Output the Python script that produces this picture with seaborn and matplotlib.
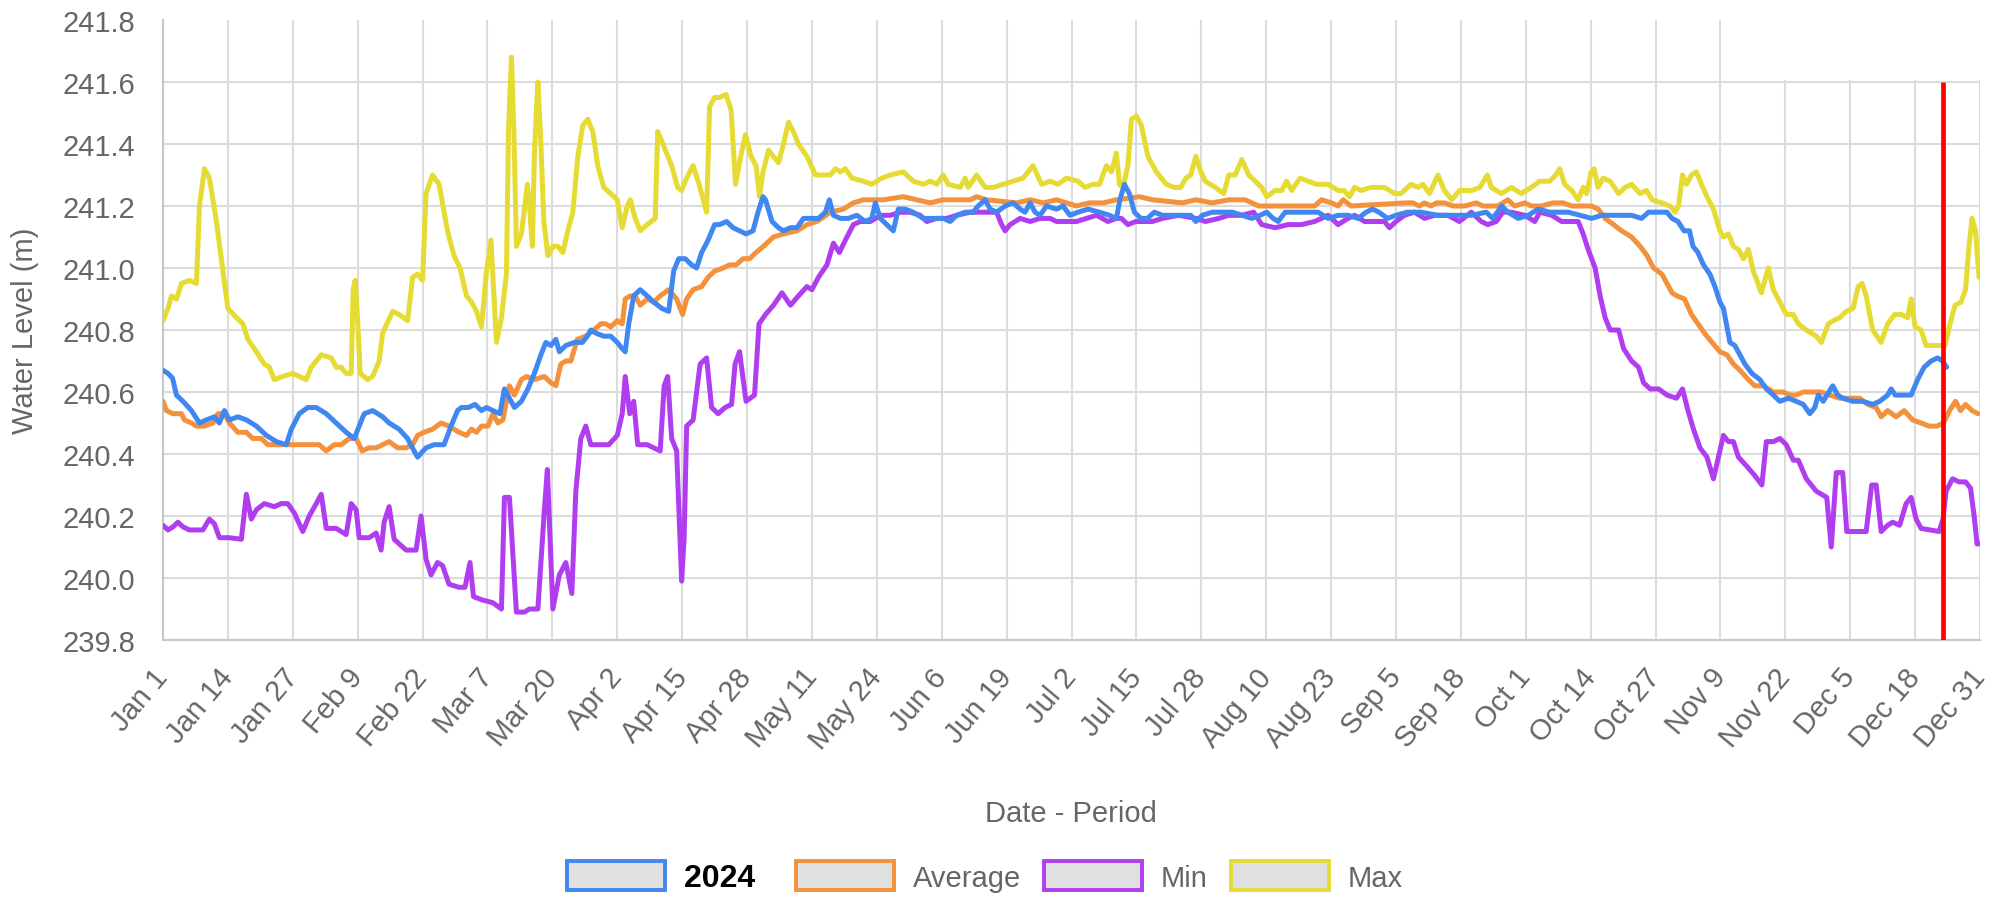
import numpy as np
import pandas as pd
import matplotlib
matplotlib.use("Agg")
import matplotlib.pyplot as plt
import seaborn as sns
from matplotlib.patches import Patch, Rectangle

# (day of year, water level in m); day 0 = Jan 1, day 364 = Dec 31
level_2024 = [
    (0, 240.67), (1, 240.66), (1.9, 240.645), (2.7, 240.59), (4, 240.57), (5.7, 240.54), (7.3, 240.50),
    (8.7, 240.51), (10.3, 240.52), (11.3, 240.50), (12.3, 240.54), (13.3, 240.51), (15, 240.52), (16.7, 240.51),
    (18.7, 240.49), (20.7, 240.46), (22.7, 240.44), (24.7, 240.43), (25.7, 240.48), (27.3, 240.53), (29, 240.55),
    (30.7, 240.55), (32.7, 240.53), (34.7, 240.50), (36.7, 240.47), (38.3, 240.45), (39.3, 240.49), (40.3, 240.53),
    (42, 240.54), (44, 240.52), (45.3, 240.50), (47.3, 240.48), (49, 240.45), (50.3, 240.41), (51, 240.39),
    (52.7, 240.42), (54.3, 240.43), (56.3, 240.43), (57.7, 240.49), (59, 240.54), (59.8, 240.55), (61.2, 240.55),
    (62.5, 240.56), (63.8, 240.54), (64.8, 240.55), (66.1, 240.54), (67.5, 240.53), (68.4, 240.61), (69.4, 240.58),
    (70.4, 240.55), (71.8, 240.57), (73.1, 240.61), (74.4, 240.66), (75.7, 240.72), (76.7, 240.76), (77.7, 240.75),
    (78.7, 240.77), (79.4, 240.73), (80.7, 240.75), (82.4, 240.76), (84, 240.76), (85, 240.78), (85.7, 240.80),
    (86.7, 240.79), (88.3, 240.78), (89.7, 240.78), (91, 240.76), (92, 240.74), (92.6, 240.73), (93.3, 240.82),
    (94.3, 240.91), (95.6, 240.93), (97, 240.91), (98.3, 240.89), (99.9, 240.87), (101.3, 240.86), (102.3, 240.99),
    (103.3, 241.03), (104.6, 241.03), (105.9, 241.01), (106.9, 241.00), (107.9, 241.05), (109.2, 241.09),
    (110.5, 241.14), (111.5, 241.14), (112.9, 241.15), (114.2, 241.13), (115.5, 241.12), (116.8, 241.11),
    (118.2, 241.12), (119.2, 241.18), (120.2, 241.23), (120.7, 241.22), (122, 241.15), (123.3, 241.13),
    (124.3, 241.12), (125.7, 241.13), (127, 241.13), (128.3, 241.16), (130, 241.16), (131.3, 241.16),
    (132.7, 241.18), (133.5, 241.22), (134.3, 241.17), (135.7, 241.16), (137.3, 241.16), (139, 241.17),
    (140.7, 241.15), (142, 241.16), (142.7, 241.21), (143.7, 241.16), (145, 241.14), (146.3, 241.12),
    (147.3, 241.19), (148.7, 241.19), (150.3, 241.18), (152.3, 241.16), (154.3, 241.16), (156.3, 241.16),
    (157.7, 241.15), (159, 241.17), (160.7, 241.18), (162.3, 241.18), (163.3, 241.20), (164.7, 241.22),
    (165.7, 241.19), (167, 241.18), (168.7, 241.20), (170.3, 241.21), (171.7, 241.19), (172.7, 241.18),
    (173.7, 241.21), (174.7, 241.18), (175.7, 241.17), (177, 241.20), (179, 241.19), (180.3, 241.20),
    (181.7, 241.17), (183.3, 241.18), (185.3, 241.19), (187.6, 241.18), (189.6, 241.17), (191, 241.16),
    (191.7, 241.22), (192.6, 241.27), (193.6, 241.24), (194.6, 241.18), (195.9, 241.16), (197.2, 241.16),
    (198.6, 241.18), (200.2, 241.17), (203.5, 241.17), (205.9, 241.17), (206.9, 241.15), (208.2, 241.17),
    (210.2, 241.18), (214.2, 241.18), (216.2, 241.17), (218.1, 241.16), (219.8, 241.17), (221.1, 241.18),
    (222.4, 241.16), (223.4, 241.15), (224.8, 241.18), (229.4, 241.18), (231.4, 241.18), (233.4, 241.16),
    (235.4, 241.17), (237.4, 241.17), (239.4, 241.16), (241, 241.18), (242.3, 241.19), (243.6, 241.18),
    (245.3, 241.16), (247, 241.17), (249.3, 241.18), (252, 241.18), (255.4, 241.17), (262.1, 241.17),
    (265.1, 241.18), (266.4, 241.16), (268.2, 241.20), (269.4, 241.18), (271.5, 241.16), (273.5, 241.17),
    (275.5, 241.19), (277.8, 241.18), (281.5, 241.18), (283.9, 241.17), (286.2, 241.16), (288.2, 241.17),
    (294.2, 241.17), (296.2, 241.16), (297.6, 241.18), (299.6, 241.18), (301.3, 241.18), (302.3, 241.16),
    (303.5, 241.15), (304.7, 241.12), (305.8, 241.12), (306.5, 241.07), (307.5, 241.05), (308.6, 241.01),
    (309.9, 240.98), (310.9, 240.94), (311.9, 240.89), (312.6, 240.87), (313.3, 240.81), (313.9, 240.76),
    (314.9, 240.75), (315.9, 240.72), (316.9, 240.69), (318.3, 240.66), (319.9, 240.64), (321.2, 240.61),
    (322.6, 240.59), (323.9, 240.57), (325.6, 240.58), (327.2, 240.57), (328.6, 240.56), (329.9, 240.53),
    (330.9, 240.55), (331.6, 240.59), (332.6, 240.57), (333.7, 240.60), (334.5, 240.62), (335.5, 240.59),
    (336.5, 240.58), (338.5, 240.57), (340.5, 240.57), (342.5, 240.56), (343.9, 240.57), (345.5, 240.59),
    (346.2, 240.61), (347, 240.59), (348.5, 240.59), (350.2, 240.59), (351.5, 240.64), (352.8, 240.68),
    (354.2, 240.70), (355.5, 240.71), (356.5, 240.70), (357.3, 240.68),
]

level_avg = [
    (0, 240.57), (0.7, 240.54), (2, 240.53), (3.7, 240.53), (4.3, 240.51), (5.7, 240.50), (6.7, 240.49),
    (8.3, 240.49), (10, 240.50), (11, 240.53), (12.3, 240.53), (13.3, 240.50), (15, 240.47), (16.7, 240.47),
    (18, 240.45), (19.7, 240.45), (21, 240.43), (22.7, 240.43), (24.7, 240.43), (27.3, 240.43), (30, 240.43),
    (31.3, 240.43), (32.7, 240.41), (34.3, 240.43), (35.7, 240.43), (37.3, 240.45), (38.7, 240.45), (39.9, 240.41),
    (41.3, 240.42), (42.7, 240.42), (44, 240.43), (45.3, 240.44), (47, 240.42), (48.7, 240.42), (50, 240.43),
    (51, 240.46), (52.3, 240.47), (54, 240.48), (55.7, 240.50), (57.3, 240.49), (59.3, 240.47), (60.8, 240.46),
    (61.8, 240.48), (62.8, 240.47), (63.8, 240.49), (65.1, 240.49), (66.1, 240.53), (67.1, 240.50), (68.1, 240.51),
    (69.4, 240.62), (70.4, 240.59), (71.8, 240.64), (72.8, 240.65), (74.4, 240.64), (76.4, 240.65), (77.7, 240.63),
    (78.7, 240.62), (79.7, 240.69), (80.7, 240.70), (81.7, 240.70), (83, 240.77), (84.7, 240.78), (86.3, 240.80),
    (87.7, 240.82), (88.7, 240.82), (89.7, 240.81), (91, 240.83), (92, 240.82), (92.6, 240.90), (93.6, 240.91),
    (94.6, 240.91), (95.6, 240.88), (97, 240.90), (98.3, 240.89), (99.6, 240.91), (101.3, 240.93), (102.9, 240.90),
    (104.1, 240.85), (104.9, 240.90), (106.2, 240.93), (107.9, 240.94), (109.2, 240.97), (110.5, 240.99),
    (112.2, 241.00), (113.5, 241.01), (114.8, 241.01), (116.2, 241.03), (117.5, 241.03), (118.8, 241.05),
    (120.3, 241.07), (122.3, 241.10), (124.3, 241.11), (127, 241.12), (129, 241.14), (131, 241.15),
    (133.7, 241.18), (136.3, 241.19), (138.3, 241.21), (140.3, 241.22), (144.3, 241.22), (148.3, 241.23),
    (151, 241.22), (153.7, 241.21), (156.3, 241.22), (161.7, 241.22), (163, 241.23), (165, 241.22), (171, 241.21),
    (173.7, 241.22), (176.3, 241.21), (179, 241.22), (181, 241.21), (183, 241.20), (185.6, 241.21), (188.3, 241.21),
    (191, 241.22), (195.6, 241.23), (198.2, 241.22), (204.2, 241.21), (206.9, 241.22), (210.2, 241.21),
    (213.5, 241.22), (216.8, 241.22), (219.5, 241.20), (230.7, 241.20), (232.1, 241.22), (234.1, 241.21),
    (235.4, 241.20), (236.4, 241.22), (238, 241.20), (249, 241.21), (250.4, 241.21), (251.7, 241.20),
    (252.7, 241.21), (254, 241.20), (255.1, 241.21), (256.7, 241.21), (258.4, 241.20), (260.7, 241.20),
    (263.1, 241.21), (264.4, 241.20), (267.4, 241.20), (269.4, 241.22), (270.8, 241.20), (272.8, 241.21),
    (274.1, 241.20), (276.1, 241.20), (278.5, 241.21), (280.5, 241.21), (282.2, 241.20), (286.2, 241.20),
    (287.5, 241.19), (288.9, 241.16), (290.6, 241.14), (292.2, 241.12), (294.2, 241.10), (295.9, 241.07),
    (297.3, 241.04), (298.6, 241.00), (300.3, 240.98), (301.3, 240.95), (302.3, 240.92), (303.3, 240.91),
    (304.8, 240.90), (306.2, 240.85), (307.5, 240.82), (308.8, 240.79), (310.3, 240.76), (311.9, 240.73),
    (313.3, 240.72), (314.6, 240.69), (315.9, 240.67), (317.6, 240.64), (318.9, 240.62), (320.6, 240.62),
    (322.6, 240.60), (324.6, 240.60), (325.9, 240.59), (327.2, 240.59), (328.6, 240.60), (330.6, 240.60),
    (332.2, 240.60), (333.9, 240.59), (335.9, 240.58), (339.9, 240.58), (341.5, 240.56), (343.2, 240.55),
    (344.2, 240.52), (345.5, 240.54), (347.2, 240.52), (348.8, 240.54), (350.5, 240.51), (352.2, 240.50),
    (353.8, 240.49), (355.4, 240.49), (356.7, 240.50), (357.9, 240.54), (359.1, 240.57), (360.1, 240.54),
    (361.1, 240.56), (362.4, 240.54), (363.6, 240.53),
]

level_min = [
    (0, 240.17), (1, 240.155), (2, 240.165), (3, 240.18), (4, 240.165), (5.3, 240.155), (8, 240.155),
    (9.3, 240.19), (10.3, 240.175), (11.3, 240.13), (13.3, 240.13), (15.7, 240.125), (16.7, 240.27),
    (17.7, 240.19), (18.7, 240.22), (20.3, 240.24), (22.3, 240.23), (23.7, 240.24), (25, 240.24), (26.3, 240.21),
    (28, 240.15), (29.3, 240.20), (30.7, 240.24), (31.7, 240.27), (32.7, 240.16), (34.7, 240.16), (35.7, 240.15),
    (36.7, 240.14), (37.7, 240.24), (38.7, 240.22), (39.3, 240.13), (41.3, 240.13), (42.7, 240.145),
    (43.7, 240.09), (44.3, 240.18), (45.3, 240.23), (46.3, 240.125), (48.7, 240.09), (50.7, 240.09),
    (51.7, 240.20), (52.7, 240.06), (53.7, 240.01), (55, 240.05), (56, 240.04), (57.3, 239.98), (59.3, 239.97),
    (60.5, 239.97), (61.5, 240.05), (62.2, 239.94), (63.8, 239.93), (66.1, 239.92), (67.8, 239.90),
    (68.4, 240.26), (69.4, 240.26), (70.8, 239.89), (72.4, 239.89), (73.4, 239.90), (75.1, 239.90),
    (76.4, 240.22), (77, 240.35), (78.1, 239.90), (79.4, 240.01), (80.7, 240.05), (81.9, 239.95), (82.7, 240.28),
    (83.7, 240.45), (84.7, 240.49), (85.7, 240.43), (87.7, 240.43), (89.3, 240.43), (91, 240.46), (92, 240.53),
    (92.6, 240.65), (93.5, 240.53), (94.3, 240.57), (95.1, 240.43), (97, 240.43), (98.3, 240.42), (99.6, 240.41),
    (100.4, 240.62), (101.1, 240.65), (101.9, 240.45), (102.9, 240.41), (103.9, 239.99), (104.4, 240.13),
    (104.9, 240.49), (106.2, 240.51), (107.6, 240.69), (108.9, 240.71), (109.9, 240.55), (111.2, 240.53),
    (112.6, 240.55), (113.9, 240.56), (114.6, 240.69), (115.5, 240.73), (116.8, 240.57), (118.5, 240.59),
    (119.4, 240.82), (120.7, 240.85), (122.3, 240.88), (124, 240.92), (125.7, 240.88), (127.3, 240.91),
    (129, 240.94), (130, 240.93), (131.3, 240.97), (133, 241.01), (134.3, 241.08), (135.5, 241.05),
    (136.7, 241.09), (138.3, 241.14), (139.7, 241.15), (141.7, 241.15), (143.7, 241.17), (145.7, 241.17),
    (147.7, 241.18), (149.7, 241.18), (151.7, 241.17), (153, 241.15), (155, 241.16), (157, 241.16),
    (159, 241.17), (161.7, 241.18), (164.3, 241.18), (167, 241.18), (168, 241.14), (168.7, 241.12),
    (169.7, 241.14), (171.7, 241.16), (173.7, 241.15), (175.7, 241.16), (177.7, 241.16), (179, 241.15),
    (181, 241.15), (183, 241.15), (185, 241.16), (187, 241.17), (189.3, 241.15), (191, 241.16), (192, 241.16),
    (193.3, 241.14), (194.9, 241.15), (198.2, 241.15), (200.2, 241.16), (203.5, 241.17), (206.9, 241.16),
    (208.8, 241.15), (211.5, 241.16), (213.5, 241.17), (216.1, 241.17), (218.5, 241.18), (220.1, 241.14),
    (222.8, 241.13), (225.4, 241.14), (228.1, 241.14), (230.7, 241.15), (233.4, 241.17), (235.4, 241.14),
    (237.4, 241.16), (238.7, 241.17), (240.7, 241.15), (244.7, 241.15), (245.7, 241.13), (247, 241.15),
    (248.7, 241.17), (250.7, 241.18), (252.7, 241.16), (254.7, 241.17), (257.4, 241.17), (259.7, 241.15),
    (262.1, 241.18), (264.1, 241.15), (265.4, 241.14), (267.1, 241.15), (268.4, 241.18), (270.1, 241.18),
    (272.8, 241.17), (274.8, 241.15), (275.8, 241.18), (278.2, 241.17), (280.2, 241.15), (283.5, 241.15),
    (284.5, 241.11), (285.5, 241.06), (286.9, 241.00), (287.9, 240.91), (288.9, 240.84), (289.9, 240.80),
    (291.6, 240.80), (292.6, 240.74), (294.2, 240.70), (295.6, 240.68), (296.6, 240.63), (297.9, 240.61),
    (299.6, 240.61), (301.3, 240.59), (303.2, 240.58), (304.4, 240.61), (305.5, 240.54), (306.6, 240.48),
    (307.9, 240.42), (309.3, 240.39), (310.6, 240.32), (311.9, 240.41), (312.6, 240.46), (313.6, 240.44),
    (314.6, 240.44), (315.6, 240.39), (317.3, 240.36), (318.9, 240.33), (320.3, 240.30), (321.2, 240.44),
    (322.6, 240.44), (323.9, 240.45), (325.2, 240.43), (326.6, 240.38), (327.6, 240.38), (329.2, 240.32),
    (331.2, 240.28), (333.3, 240.26), (334.2, 240.10), (335.2, 240.34), (336.5, 240.34), (337.3, 240.15),
    (341.2, 240.15), (342.3, 240.30), (343.2, 240.30), (344.2, 240.15), (345.5, 240.17), (346.5, 240.18),
    (347.9, 240.17), (349.2, 240.24), (350.2, 240.26), (351.2, 240.19), (352.2, 240.16), (355.8, 240.15),
    (356.6, 240.19), (357.2, 240.28), (358.5, 240.32), (359.8, 240.31), (361.1, 240.31), (362.1, 240.29),
    (362.9, 240.19), (363.4, 240.11), (363.9, 240.11),
]

level_max = [
    (0, 240.83), (1, 240.87), (1.7, 240.91), (2.7, 240.90), (3.7, 240.95), (5.3, 240.96), (6.7, 240.95),
    (7.3, 241.20), (8.3, 241.32), (9.3, 241.29), (10.7, 241.15), (12, 240.99), (13, 240.87), (14.7, 240.84),
    (16, 240.82), (17, 240.77), (18.7, 240.73), (20.3, 240.69), (21.3, 240.68), (22.3, 240.64), (24, 240.65),
    (26, 240.66), (27.3, 240.65), (28.7, 240.64), (29.7, 240.68), (30.7, 240.70), (31.7, 240.72), (33.7, 240.71),
    (34.7, 240.68), (35.7, 240.68), (36.7, 240.66), (37.7, 240.66), (38.1, 240.93), (38.5, 240.96), (39, 240.83),
    (39.5, 240.66), (41, 240.64), (42, 240.65), (43.3, 240.70), (44, 240.79), (46, 240.86), (47.3, 240.85),
    (49, 240.83), (50, 240.97), (51, 240.98), (52, 240.96), (52.7, 241.24), (54, 241.30), (55.3, 241.27),
    (57, 241.12), (58.3, 241.04), (59.5, 241.00), (60.8, 240.91), (61.8, 240.89), (62.8, 240.86), (63.8, 240.81),
    (64.8, 240.99), (65.7, 241.09), (66.3, 240.91), (66.8, 240.76), (67.8, 240.84), (68.8, 240.98), (69.2, 241.44),
    (69.8, 241.68), (70.3, 241.44), (70.8, 241.07), (71.8, 241.11), (73, 241.27), (73.5, 241.18), (74, 241.07),
    (74.4, 241.37), (75.1, 241.60), (75.6, 241.44), (76.3, 241.15), (77.1, 241.04), (78.1, 241.07), (79.1, 241.07),
    (80.1, 241.05), (81.1, 241.12), (82.1, 241.18), (83.1, 241.36), (84.1, 241.46), (85.1, 241.48), (86.1, 241.44),
    (87.1, 241.33), (88.3, 241.26), (89.7, 241.24), (91, 241.22), (92, 241.13), (93, 241.20), (93.6, 241.22),
    (94.6, 241.16), (95.6, 241.12), (97, 241.14), (98.6, 241.16), (99.1, 241.44), (99.9, 241.41), (101.9, 241.33),
    (103.1, 241.26), (103.9, 241.25), (104.9, 241.29), (106.2, 241.33), (107.4, 241.27), (108.9, 241.18),
    (109.5, 241.52), (110.5, 241.55), (111.5, 241.55), (112.8, 241.56), (113.8, 241.51), (114.7, 241.27),
    (115.6, 241.35), (116.7, 241.43), (117.8, 241.36), (118.8, 241.33), (119.5, 241.23), (120.2, 241.31),
    (121.3, 241.38), (122.3, 241.36), (123.3, 241.34), (124.3, 241.40), (125.3, 241.47), (126.3, 241.44),
    (127.3, 241.40), (129, 241.36), (130.7, 241.30), (132.3, 241.30), (133.7, 241.30), (134.7, 241.32),
    (135.7, 241.31), (136.7, 241.32), (138, 241.29), (140.3, 241.28), (142, 241.27), (144, 241.29),
    (145.7, 241.30), (148.3, 241.31), (150.3, 241.28), (152.3, 241.27), (153.7, 241.28), (155, 241.27),
    (156.3, 241.30), (157.3, 241.27), (159.7, 241.26), (160.7, 241.29), (161.3, 241.26), (163, 241.30),
    (164.7, 241.26), (166.3, 241.26), (168.3, 241.27), (170.3, 241.28), (172.3, 241.29), (174.3, 241.33),
    (176, 241.27), (177.7, 241.28), (179.3, 241.27), (181, 241.29), (183.3, 241.28), (184.7, 241.26),
    (186.3, 241.27), (187.6, 241.27), (189, 241.33), (190, 241.31), (191, 241.37), (191.6, 241.27),
    (192.3, 241.26), (193.3, 241.33), (194, 241.48), (195, 241.49), (196, 241.46), (197.3, 241.36), (199, 241.31),
    (201, 241.27), (202.6, 241.26), (203.9, 241.26), (204.9, 241.29), (205.9, 241.30), (206.9, 241.36),
    (207.9, 241.31), (208.8, 241.28), (210.8, 241.26), (212.5, 241.24), (213.5, 241.30), (214.8, 241.30),
    (216.1, 241.35), (217.5, 241.30), (218.8, 241.28), (220.1, 241.26), (221.1, 241.23), (222.8, 241.25),
    (224.1, 241.25), (225.1, 241.28), (226.1, 241.25), (227.8, 241.29), (229.4, 241.28), (231.1, 241.27),
    (233.4, 241.27), (235.4, 241.25), (236.6, 241.25), (237.7, 241.23), (238.7, 241.26), (240, 241.25),
    (242, 241.26), (244.7, 241.26), (246.7, 241.24), (248, 241.24), (250, 241.27), (251.4, 241.26),
    (252.4, 241.27), (253.7, 241.24), (255.4, 241.30), (256.7, 241.25), (258.2, 241.22), (259.7, 241.25),
    (262.1, 241.25), (263.8, 241.26), (265.3, 241.30), (266.1, 241.26), (268.1, 241.24), (270.1, 241.26),
    (272.1, 241.24), (274.1, 241.26), (275.8, 241.28), (277.8, 241.28), (279, 241.30), (279.8, 241.32),
    (280.8, 241.27), (282.2, 241.25), (283.5, 241.22), (284.5, 241.26), (285.2, 241.24), (286.1, 241.31),
    (286.7, 241.32), (287.5, 241.26), (288.5, 241.29), (289.9, 241.28), (291.6, 241.24), (292.9, 241.26),
    (294.2, 241.27), (295.9, 241.24), (297.2, 241.25), (298.3, 241.22), (300.3, 241.21), (301.9, 241.20),
    (302.9, 241.18), (303.6, 241.20), (304.4, 241.30), (305.2, 241.27), (306.2, 241.30), (307.2, 241.31),
    (308.2, 241.27), (309.3, 241.23), (310.6, 241.19), (311.9, 241.12), (312.6, 241.10), (313.6, 241.11),
    (314.6, 241.07), (315.6, 241.06), (316.6, 241.03), (317.6, 241.06), (318.6, 240.99), (320.2, 240.92),
    (321.6, 241.00), (322.6, 240.93), (323.9, 240.89), (325.2, 240.85), (326.6, 240.85), (327.6, 240.82),
    (329.2, 240.80), (331.2, 240.78), (332.2, 240.76), (333.6, 240.82), (334.6, 240.83), (335.9, 240.84),
    (337.2, 240.86), (338.6, 240.87), (339.6, 240.94), (340.4, 240.95), (341.2, 240.91), (342.5, 240.80),
    (344.2, 240.76), (345.5, 240.82), (346.9, 240.85), (348.2, 240.85), (349.5, 240.84), (350.2, 240.90),
    (351, 240.81), (352.2, 240.80), (353.2, 240.75), (354.5, 240.75), (355.7, 240.75), (357, 240.75),
    (358, 240.82), (359, 240.88), (360.2, 240.89), (361.1, 240.93), (361.8, 241.07), (362.4, 241.16),
    (363.1, 241.12), (363.8, 240.97),
]

tick_labels = ["Jan 1", "Jan 14", "Jan 27", "Feb 9", "Feb 22", "Mar 7", "Mar 20", "Apr 2", "Apr 15",
               "Apr 28", "May 11", "May 24", "Jun 6", "Jun 19", "Jul 2", "Jul 15", "Jul 28", "Aug 10",
               "Aug 23", "Sep 5", "Sep 18", "Oct 1", "Oct 14", "Oct 27", "Nov 9", "Nov 22", "Dec 5",
               "Dec 18", "Dec 31"]
y_ticks = [239.8, 240.0, 240.2, 240.4, 240.6, 240.8, 241.0, 241.2, 241.4, 241.6, 241.8]
today_day = 356.6

# legend order and colours
names = ["2024", "Average", "Min", "Max"]
colors = {"2024": "#4087f2", "Average": "#f3913c", "Min": "#b03ef0", "Max": "#e5db32"}
data = {"2024": level_2024, "Average": level_avg, "Min": level_min, "Max": level_max}

sns.set_theme(style="white")
plt.rcParams["font.family"] = ["Liberation Sans", "DejaVu Sans"]

W, H = 2007, 904
fig = plt.figure(figsize=(W / 100, H / 100), dpi=100)
ax = fig.add_axes([163 / W, 1 - 641 / H, (1980 - 163) / W, (641 - 21) / H])

# chart.js draws the first dataset on top, so go in reverse
for i, name in enumerate(reversed(names)):
    df = pd.DataFrame(data[name], columns=["day", "level"])
    sns.lineplot(data=df, x="day", y="level", color=colors[name], linewidth=3.6,
                 estimator=None, sort=False, ax=ax, zorder=3 + i)

ax.set_xlim(0, 364)
ax.set_ylim(239.8, 241.8)
ax.set_xticks(np.arange(0, 365, 13))
ax.set_xticklabels(tick_labels, rotation=50, ha="right", va="center", rotation_mode="anchor")
ax.set_yticks(y_ticks)
ax.set_yticklabels([f"{v:.1f}" for v in y_ticks])
ax.set_xlabel("")
ax.set_ylabel("")

grid_c = "#dcdcdc"
ax.set_axisbelow(True)
ax.grid(True, color=grid_c, linewidth=1.5)
ax.tick_params(axis="both", color=grid_c, width=1.5, labelcolor="#666666", labelsize=21)
ax.tick_params(axis="x", length=16, pad=7)
ax.tick_params(axis="y", length=14, pad=6)
for s in ["top", "right"]:
    ax.spines[s].set_visible(False)
for s in ["left", "bottom"]:
    ax.spines[s].set_color("#c8c8c8")
    ax.spines[s].set_linewidth(1.5)

# no gridline / tick at the very top
top_tick = ax.yaxis.get_major_ticks()[-1]
top_tick.gridline.set_visible(False)
top_tick.tick1line.set_visible(False)

# the top-right corner is blank in the original
ax.add_patch(Rectangle((318, 241.607), 50, 0.3, facecolor="white", edgecolor="none",
                       zorder=1, clip_on=False))

ax.vlines(today_day, 239.8, 241.6, color="#ff0000", linewidth=3.4, zorder=10)

fig.text(25 / W, 1 - 331 / H, "Water Level (m)", rotation=90, ha="center", va="center",
         fontsize=21, color="#666666")
fig.text(1071 / W, 1 - 814 / H, "Date - Period", ha="center", va="center",
         fontsize=21, color="#666666")

handles = [Patch(facecolor="#e0e0e0", edgecolor=colors[n], linewidth=2.8) for n in names]
labels = ["2024  ", "Average", "Min", "Max"]
leg = fig.legend(handles, labels, loc="center", bbox_to_anchor=(985 / W, 1 - 878 / H), ncol=4,
                 frameon=False, fontsize=21, handlelength=3.35, handleheight=1.13,
                 handletextpad=0.65, columnspacing=0.8, labelcolor="#666666")
t0 = leg.get_texts()[0]
t0.set_color("black")
t0.set_fontweight("bold")
t0.set_fontsize(23)

fig.savefig("out.png", dpi=100)
